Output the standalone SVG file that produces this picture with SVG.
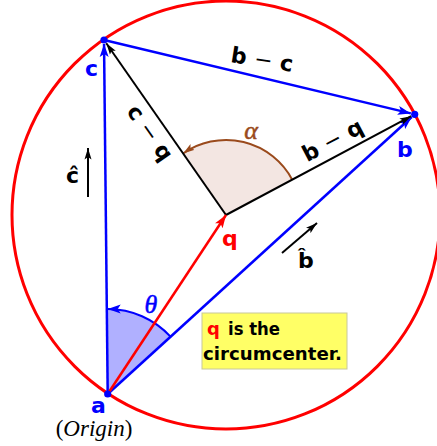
<svg xmlns="http://www.w3.org/2000/svg" width="437" height="446" viewBox="0 0 437 446">
<style>
.bl{stroke:#0000ff;stroke-width:2.5;fill:none}
.bk{stroke:#000;stroke-width:2;fill:none}
.rd{stroke:#ff0000;stroke-width:2.5;fill:none}
.lab{font-family:"DejaVu Sans",sans-serif;font-weight:bold;font-size:22px}
.mth{font-family:"Liberation Serif",serif;font-style:italic;font-size:26px}
.note{font-family:"DejaVu Sans",sans-serif;font-weight:bold;font-size:18px}
.thin{font-weight:normal}
</style>
<defs>
<marker id="ah-blue" markerUnits="userSpaceOnUse" viewBox="0 0 14 10" markerWidth="14" markerHeight="10" refX="13" refY="5" orient="auto"><path d="M0,0.5 L13,5 L0,9.5 L3,5 Z" fill="#0000ff"/></marker>
<marker id="ah-black" markerUnits="userSpaceOnUse" viewBox="0 0 12 8" markerWidth="12" markerHeight="8" refX="11.5" refY="4" orient="auto"><path d="M0,0.5 L11.5,4 L0,7.5 L2.5,4 Z" fill="#000"/></marker>
<marker id="ah-red" markerUnits="userSpaceOnUse" viewBox="0 0 14 10" markerWidth="14" markerHeight="10" refX="13" refY="5" orient="auto"><path d="M0,0.5 L13,5 L0,9.5 L3,5 Z" fill="#ff0000"/></marker>
<marker id="ah-brown" markerUnits="userSpaceOnUse" viewBox="0 0 12 8" markerWidth="12" markerHeight="8" refX="11.5" refY="4" orient="auto"><path d="M0,0.5 L11.5,4 L0,7.5 L2.5,4 Z" fill="#9a4a1c"/></marker>
</defs>
<rect width="437" height="446" fill="#fff"/>
<g id="angle-alpha">
<path d="M226,215 L292.2,179.7 A75,75 0 0 0 183.1,153.5 Z" fill="#f3e6e2" stroke="none"/>
<path d="M292.2,179.7 A75,75 0 0 0 183.1,153.5" fill="none" stroke="#9a4a1c" stroke-width="2" marker-end="url(#ah-brown)"/>
<text class="mth" x="251" y="139" text-anchor="middle" fill="#9a4a1c" stroke="#9a4a1c" stroke-width="0.5">α</text>
</g>
<g id="angle-theta">
<path d="M107.7,394 L170.5,336.7 A85,85 0 0 0 107.7,309 Z" fill="#b0b0ff" stroke="none"/>
<path d="M170.5,336.7 A85,85 0 0 0 107.7,309" fill="none" stroke="#0000ff" stroke-width="2" marker-end="url(#ah-blue)"/>
<text class="mth" x="151" y="313" text-anchor="middle" fill="#0000ff" stroke="#0000ff" stroke-width="0.5">θ</text>
</g>
<g id="circumcircle">
<circle cx="226" cy="215" r="214" fill="none" stroke="#ff0000" stroke-width="3"/>
</g>
<g id="connectors">
<line class="bl" x1="107.7" y1="394" x2="104.04" y2="44" marker-end="url(#ah-blue)"/>
<line class="bl" x1="107.7" y1="394" x2="411.7" y2="117" marker-end="url(#ah-blue)"/>
<line class="bl" x1="104" y1="40" x2="410.8" y2="113.4" marker-end="url(#ah-blue)"/>
<line class="bk" x1="226" y1="215" x2="106.3" y2="43.3" marker-end="url(#ah-black)"/>
<line class="bk" x1="226" y1="215" x2="411.2" y2="116.2" marker-end="url(#ah-black)"/>
<line class="rd" x1="107.7" y1="394" x2="226" y2="215" marker-end="url(#ah-red)"/>
<text class="lab" x="261" y="67" text-anchor="middle" transform="rotate(9 261 67)">b <tspan class="thin">−</tspan> c</text>
<text class="lab" x="336" y="147" text-anchor="middle" transform="rotate(-28 336 147)">b <tspan class="thin">−</tspan> q</text>
<text class="lab" x="144" y="137" text-anchor="middle" transform="rotate(55 144 137)">c <tspan class="thin">−</tspan> q</text>
</g>
<g id="node-a">
<circle cx="107.7" cy="394" r="3.6" fill="#0000ff"/>
<text class="lab" x="91" y="413" fill="#0000ff">a</text>
<text x="94" y="436" text-anchor="middle" font-family="Liberation Serif, serif" font-size="23">(<tspan font-style="italic">Origin</tspan>)</text>
</g>
<g id="node-b">
<circle cx="414.7" cy="114.3" r="3.6" fill="#0000ff"/>
<text class="lab" x="397" y="157" fill="#0000ff">b</text>
</g>
<g id="node-c">
<circle cx="104" cy="40" r="3.6" fill="#0000ff"/>
<text class="lab" x="85" y="76" fill="#0000ff">c</text>
</g>
<g id="node-q">
<text class="lab" x="222" y="246" fill="#ff0000">q</text>
</g>
<g id="unit-c">
<line class="bk" x1="88" y1="197" x2="88" y2="148" marker-end="url(#ah-black)"/>
<text class="lab" x="66" y="183" font-size="20">ĉ</text>
</g>
<g id="unit-b">
<line class="bk" x1="282" y1="253" x2="317" y2="223" marker-end="url(#ah-black)"/>
<text class="lab" x="298" y="268" font-size="21">b̂</text>
</g>
<g id="note">
<rect x="202" y="313" width="145" height="56" fill="#ffff66" stroke="#c8c89a" stroke-width="1"/>
<text class="note" x="207" y="335" fill="#ff0000">q</text>
<text class="note" x="228" y="335" textLength="52" lengthAdjust="spacingAndGlyphs">is the</text>
<text class="note" x="203" y="360" textLength="139" lengthAdjust="spacingAndGlyphs">circumcenter.</text>
</g>
</svg>
